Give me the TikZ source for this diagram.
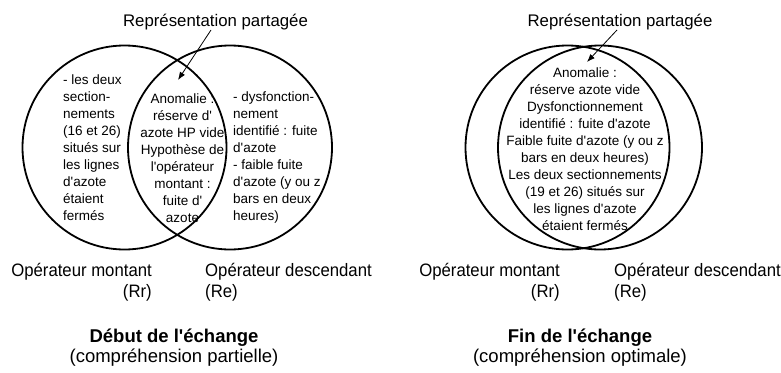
\documentclass[tikz,border=0pt]{standalone}
\usepackage{fontspec}
\setmainfont{Liberation Sans}[Ligatures=TeXOff]
\newfontfamily\narrowfont{Liberation Sans}[FakeStretch=0.93,Ligatures=TeXOff]
\usetikzlibrary{arrows.meta}
\tikzset{
  venn/.style={draw, circle, line width=1.8pt, minimum size=204pt, inner sep=0pt},
  ctext/.style={font=\fontsize{13.5}{17}\selectfont, inner sep=0pt},
  titletext/.style={font=\fontsize{16.8}{20}\selectfont, inner sep=0pt},
  lbl/.style={font=\narrowfont\fontsize{18}{21}\selectfont, inner sep=0pt},
  captext/.style={font=\fontsize{18.5}{20}\selectfont, inner sep=0pt, align=center},
  pointer/.style={-{Latex[length=8pt,width=6pt]}, line width=0.8pt}
}
\begin{document}
\begin{tikzpicture}[x=1pt,y=-1pt]
\useasboundingbox (0,0) rectangle (781,372);
% ---------- left diagram ----------
\node[venn] (L1) at (124.5,147.5) {};
\node[venn] (L2) at (230,147.5) {};
\node[titletext] (T1) at (215.5,22) {Représentation partagée};
\coordinate (A1s) at (211,30);
\coordinate (A1e) at (178,80);
\draw[pointer] (A1s) -- (A1e);
\node[ctext, anchor=north west, align=left] (LT) at (63,74.5)
  {- les deux\\section-\\nements\\(16 et 26)\\situés sur\\les lignes\\d'azote\\étaient\\fermés};
\node[ctext, anchor=north, align=center] (LC) at (182.5,93.5)
  {Anomalie :\\réserve d'\\azote HP vide\\Hypothèse de\\l'opérateur\\montant :\\fuite d'\\azote};
\node[ctext, anchor=north west, align=left] (LR) at (233,91.5)
  {- dysfonction-\\nement\\identifié : fuite\\d'azote\\- faible fuite\\d'azote (y ou z\\bars en deux\\heures)};
\node[lbl, anchor=north east, align=right] (LM) at (152,263) {Opérateur montant\\(Rr)};
\node[lbl, anchor=north west, align=left] (LD) at (205,263) {Opérateur descendant\\(Re)};
\node[captext, anchor=north] (LCap) at (174,329) {\textbf{Début de l'échange}\\(compréhension partielle)};
% ---------- right diagram ----------
\node[venn] (R1) at (567.5,147.5) {};
\node[venn] (R2) at (600,147.5) {};
\node[titletext] (T2) at (620,22) {Représentation partagée};
\coordinate (A2s) at (617,30);
\coordinate (A2e) at (587,62);
\draw[pointer] (A2s) -- (A2e);
\node[ctext, anchor=north, align=center] (RC) at (585,67.5)
  {Anomalie :\\réserve azote vide\\Dysfonctionnement\\identifié : fuite d'azote\\Faible fuite d'azote (y ou z\\bars en deux heures)\\Les deux sectionnements\\(19 et 26) situés sur\\les lignes d'azote\\étaient fermés};
\node[lbl, anchor=north east, align=right] (RM) at (560,263) {Opérateur montant\\(Rr)};
\node[lbl, anchor=north west, align=left] (RD) at (614,263) {Opérateur descendant\\(Re)};
\node[captext, anchor=north] (RCap) at (580,329) {\textbf{Fin de l'échange}\\(compréhension optimale)};
\end{tikzpicture}
\end{document}
